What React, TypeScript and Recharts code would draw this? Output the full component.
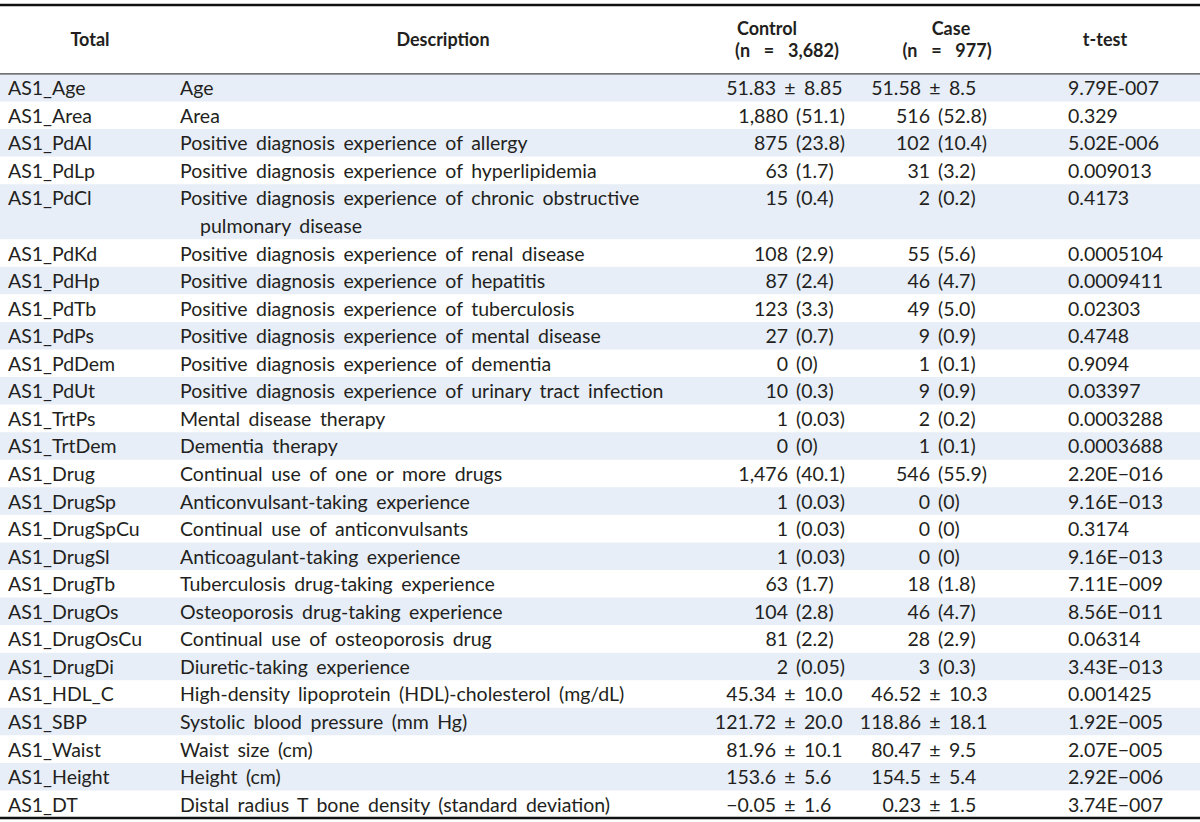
import React from "react";
import { ScatterChart, Scatter, XAxis, YAxis, ReferenceArea, ReferenceLine } from "recharts";

const variables = [
  "AS1_Age", "AS1_Area", "AS1_PdAl", "AS1_PdLp", "AS1_PdCl", "AS1_PdKd", "AS1_PdHp",
  "AS1_PdTb", "AS1_PdPs", "AS1_PdDem", "AS1_PdUt", "AS1_TrtPs", "AS1_TrtDem", "AS1_Drug",
  "AS1_DrugSp", "AS1_DrugSpCu", "AS1_DrugSl", "AS1_DrugTb", "AS1_DrugOs", "AS1_DrugOsCu",
  "AS1_DrugDi", "AS1_HDL_C", "AS1_SBP", "AS1_Waist", "AS1_Height", "AS1_DT",
];

const descriptions: string[][] = [
  ["Age"],
  ["Area"],
  ["Positive diagnosis experience of allergy"],
  ["Positive diagnosis experience of hyperlipidemia"],
  ["Positive diagnosis experience of chronic obstructive", "pulmonary disease"],
  ["Positive diagnosis experience of renal disease"],
  ["Positive diagnosis experience of hepatitis"],
  ["Positive diagnosis experience of tuberculosis"],
  ["Positive diagnosis experience of mental disease"],
  ["Positive diagnosis experience of dementia"],
  ["Positive diagnosis experience of urinary tract infection"],
  ["Mental disease therapy"],
  ["Dementia therapy"],
  ["Continual use of one or more drugs"],
  ["Anticonvulsant-taking experience"],
  ["Continual use of anticonvulsants"],
  ["Anticoagulant-taking experience"],
  ["Tuberculosis drug-taking experience"],
  ["Osteoporosis drug-taking experience"],
  ["Continual use of osteoporosis drug"],
  ["Diuretic-taking experience"],
  ["High-density lipoprotein (HDL)-cholesterol (mg/dL)"],
  ["Systolic blood pressure (mm Hg)"],
  ["Waist size (cm)"],
  ["Height (cm)"],
  ["Distal radius T bone density (standard deviation)"],
];

const controlValues = [
  "51.83 ± 8.85", "1,880 (51.1)", "875 (23.8)", "63 (1.7)", "15 (0.4)", "108 (2.9)",
  "87 (2.4)", "123 (3.3)", "27 (0.7)", "0 (0)", "10 (0.3)", "1 (0.03)", "0 (0)",
  "1,476 (40.1)", "1 (0.03)", "1 (0.03)", "1 (0.03)", "63 (1.7)", "104 (2.8)", "81 (2.2)",
  "2 (0.05)", "45.34 ± 10.0", "121.72 ± 20.0", "81.96 ± 10.1", "153.6 ± 5.6", "−0.05 ± 1.6",
];

const caseValues = [
  "51.58 ± 8.5", "516 (52.8)", "102 (10.4)", "31 (3.2)", "2 (0.2)", "55 (5.6)",
  "46 (4.7)", "49 (5.0)", "9 (0.9)", "1 (0.1)", "9 (0.9)", "2 (0.2)", "1 (0.1)",
  "546 (55.9)", "0 (0)", "0 (0)", "0 (0)", "18 (1.8)", "46 (4.7)", "28 (2.9)",
  "3 (0.3)", "46.52 ± 10.3", "118.86 ± 18.1", "80.47 ± 9.5", "154.5 ± 5.4", "0.23 ± 1.5",
];

const tTests = [
  "9.79E-007", "0.329", "5.02E-006", "0.009013", "0.4173", "0.0005104", "0.0009411",
  "0.02303", "0.4748", "0.9094", "0.03397", "0.0003288", "0.0003688", "2.20E−016",
  "9.16E−013", "0.3174", "9.16E−013", "7.11E−009", "8.56E−011", "0.06314", "3.43E−013",
  "0.001425", "1.92E−005", "2.07E−005", "2.92E−006", "3.74E−007",
];

const headerLabels = ["Total", "Description", "Control", "(n  =  3,682)", "Case", "(n  =  977)", "t-test"];

const WIDTH = 1200;
const HEIGHT = 822;
const HEADER_LINES = 2.5;
const FONT = "Lato, 'Open Sans', sans-serif";
const TEXT = "#231f20";
const SHADE = "#e7eef7";

let cursor = HEADER_LINES;
const rows = variables.map((v, i) => {
  const r = { code: v, start: cursor, lines: descriptions[i].length };
  cursor += descriptions[i].length;
  return r;
});
const TOTAL = cursor;

const lineData = rows.flatMap((r, i) =>
  descriptions[i].map((d, k) => ({ x: 0, y: r.start + k + 0.5, row: i, line: k, desc: d }))
);
const headerData = [{ x: 0, y: HEADER_LINES / 2 }];

const txt = { fontFamily: FONT, fontSize: 19.5, fill: TEXT } as const;

const renderValue = (value: string, pmX: number, cntX: number, cy: number) => {
  if (value.includes("±")) {
    const [a, b] = value.split("±").map((s) => s.trim());
    return (
      <g>
        <text {...txt} x={pmX - 14} y={cy} textAnchor="end" dominantBaseline="central">{a}</text>
        <text {...txt} x={pmX} y={cy} textAnchor="middle" dominantBaseline="central">±</text>
        <text {...txt} x={pmX + 14} y={cy} textAnchor="start" dominantBaseline="central">{b}</text>
      </g>
    );
  }
  const idx = value.indexOf(" ");
  return (
    <g>
      <text {...txt} x={cntX} y={cy} textAnchor="end" dominantBaseline="central">{value.slice(0, idx)}</text>
      <text {...txt} x={cntX + 8} y={cy} textAnchor="start" dominantBaseline="central">{value.slice(idx + 1)}</text>
    </g>
  );
};

const RowShape = (props: any) => {
  const { cx, cy, payload } = props;
  const i = payload.row;
  if (payload.line > 0) {
    return (
      <text {...txt} x={cx + 200} y={cy} dominantBaseline="central" style={{ wordSpacing: 3.5 }}>
        {payload.desc}
      </text>
    );
  }
  return (
    <g>
      <text {...txt} x={cx + 8} y={cy} dominantBaseline="central">{variables[i]}</text>
      <text {...txt} x={cx + 180} y={cy} dominantBaseline="central" style={{ wordSpacing: 3.5 }}>
        {payload.desc}
      </text>
      {renderValue(controlValues[i], cx + 790, cx + 788, cy)}
      {renderValue(caseValues[i], cx + 935, cx + 930, cy)}
      <text {...txt} x={cx + 1068} y={cy} dominantBaseline="central">{tTests[i]}</text>
    </g>
  );
};

const HeaderShape = (props: any) => {
  const { cx, cy } = props;
  const b = {
    ...txt,
    fontSize: 18,
    fontWeight: 700,
    dominantBaseline: "central" as const,
    textAnchor: "middle" as const,
  };
  return (
    <g>
      <text {...b} x={cx + 90} y={cy}>{headerLabels[0]}</text>
      <text {...b} x={cx + 443} y={cy}>{headerLabels[1]}</text>
      <text {...b} x={cx + 767} y={cy - 11}>{headerLabels[2]}</text>
      <text {...b} x={cx + 787} y={cy + 11} style={{ whiteSpace: "pre", wordSpacing: 2.5 }}>{headerLabels[3]}</text>
      <text {...b} x={cx + 951} y={cy - 11}>{headerLabels[4]}</text>
      <text {...b} x={cx + 947} y={cy + 11} style={{ whiteSpace: "pre", wordSpacing: 2.5 }}>{headerLabels[5]}</text>
      <text {...b} x={cx + 1105} y={cy}>{headerLabels[6]}</text>
    </g>
  );
};

export default function App() {
  return (
    <div style={{ width: WIDTH, height: HEIGHT, background: "#fff" }}>
      <style>{"body{margin:0;background:#fff}"}</style>
      <ScatterChart width={WIDTH} height={HEIGHT} margin={{ top: 5, right: 0, bottom: 4, left: 0 }}>
        <XAxis type="number" dataKey="x" domain={[0, WIDTH]} hide />
        <YAxis type="number" dataKey="y" domain={[0, TOTAL]} reversed hide />
        {rows.map((r, i) =>
          i % 2 === 0 ? (
            <ReferenceArea
              key={r.code}
              x1={0}
              x2={WIDTH}
              y1={r.start}
              y2={r.start + r.lines}
              fill={SHADE}
              fillOpacity={1}
              stroke="none"
              ifOverflow="extendDomain"
            />
          ) : null
        )}
        <ReferenceLine y={0} stroke="#111" strokeWidth={2.5} />
        <ReferenceLine y={HEADER_LINES} stroke="#444" strokeWidth={1.2} />
        <ReferenceLine y={TOTAL} stroke="#111" strokeWidth={2.5} />
        <Scatter data={headerData} shape={HeaderShape} isAnimationActive={false} />
        <Scatter data={lineData} shape={RowShape} isAnimationActive={false} />
      </ScatterChart>
    </div>
  );
}
